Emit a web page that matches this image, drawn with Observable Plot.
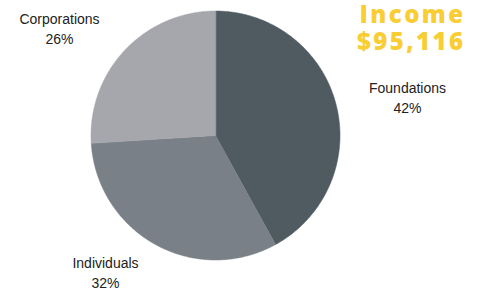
<!DOCTYPE html>
<html>
<head>
<meta charset="utf-8">
<script src="https://cdn.jsdelivr.net/npm/d3@7"></script>
<script src="https://cdn.jsdelivr.net/npm/@observablehq/plot@0.6"></script>
<style>
  html, body { margin: 0; padding: 0; background: #fff; }
  #chart g[font-family^="'Open Sans'"] text { letter-spacing: 2.4px; }
</style>
</head>
<body>
<div id="chart"></div>
<script>
const categories = ["Foundations", "Individuals", "Corporations"];
const shares = [42, 32, 26];
const sliceColors = ["#4f5b61", "#7a8088", "#a6a7ad"];
const titleLines = ["Income", "$95,116"];

const pie = d3.pie().sort(null).value(d => d.share)(
  categories.map((c, i) => ({category: c, share: shares[i]}))
);

// polygon points for each slice, in unit-circle coordinates
const pts = [];
pie.forEach(s => {
  pts.push({category: s.data.category, x: 0, y: 0});
  const n = Math.max(2, Math.ceil((s.endAngle - s.startAngle) / 0.01));
  for (let k = 0; k <= n; k++) {
    const a = s.startAngle + (s.endAngle - s.startAngle) * k / n;
    pts.push({category: s.data.category, x: Math.sin(a), y: Math.cos(a)});
  }
});

const labelFont = "'Liberation Sans', Arial, sans-serif";
const label = (i, left, top) => Plot.text([categories[i] + "\n" + shares[i] + "%"], {
  frameAnchor: "top-left", dx: left, dy: top, textAnchor: "middle", lineAnchor: "top",
  lineHeight: 1.45, fontSize: 14, fontFamily: labelFont, fill: "#222"
});

const chart = Plot.plot({
  width: 484,
  height: 293,
  margin: 0,
  x: {domain: [-1, 1], range: [90.5, 339.5], axis: null},
  y: {domain: [-1, 1], range: [259.5, 10.5], axis: null},
  color: {domain: categories, range: sliceColors},
  marks: [
    Plot.line(pts, {x: "x", y: "y", z: "category", fill: "category", stroke: "category", strokeWidth: 0.5, curve: "linear-closed"}),
    label(2, 59, 9),
    label(0, 407, 78),
    label(1, 105, 253),
    Plot.text([titleLines.join("\n")], {
      frameAnchor: "top-right", dx: -19, dy: 3, lineAnchor: "top",
      fontSize: 24, fontWeight: 800, fontFamily: "'Open Sans', sans-serif", fill: "#f9cd34",
      lineHeight: 1.13, textAnchor: "end"
    })
  ]
});
document.getElementById("chart").appendChild(chart);
</script>
</body>
</html>
